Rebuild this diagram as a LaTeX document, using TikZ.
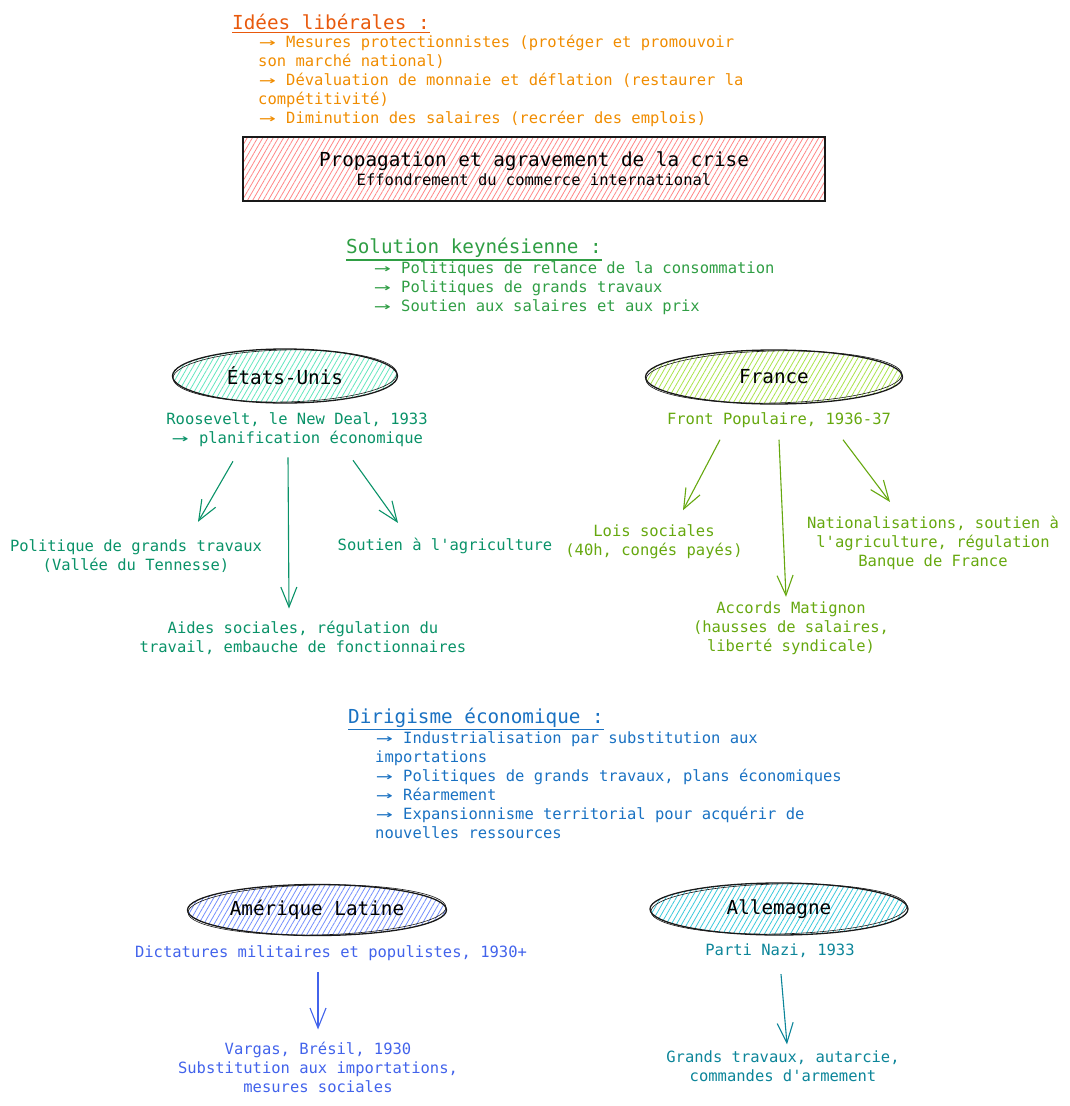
\documentclass[tikz,border=0pt]{standalone}
\usepackage{fontspec}
\usepackage{graphicx}
\setmonofont{DejaVu Sans Mono}
\usetikzlibrary{shapes.geometric,patterns.meta,arrows.meta}
\definecolor{libred}{HTML}{E8590C}
\definecolor{liborange}{HTML}{F08C00}
\definecolor{crisered}{HTML}{FF8787}
\definecolor{keygreen}{HTML}{2F9E44}
\definecolor{usfill}{HTML}{63E6BE}
\definecolor{ustext}{HTML}{099268}
\definecolor{frfill}{HTML}{A9E34B}
\definecolor{frtext}{HTML}{66A80F}
\definecolor{dirblue}{HTML}{1971C2}
\definecolor{alfill}{HTML}{748FFC}
\definecolor{altext}{HTML}{4263EB}
\definecolor{defill}{HTML}{3BC9DB}
\definecolor{detext}{HTML}{0C8599}
% the arrow of the lists takes two columns
\newcommand{\fl}{\makebox[1.204em][c]{\scalebox{1.8}[1]{→}}}
\tikzset{
  txt/.style={font=\ttfamily\fontsize{15.5}{19}\selectfont, inner sep=0pt, align=center},
  big/.style={font=\ttfamily\fontsize{19.3}{23}\selectfont, inner sep=0pt},
  hachure/.style={pattern={Lines[angle=60,distance=4.5pt,line width=0.8pt]}, pattern color=#1},
  pays/.style={ellipse, draw=black!90, line width=1.3pt, inner sep=0pt, big, hachure=#1},
  fleche/.style={-{Straight Barb[length=20pt,width=16pt]}, line width=1.1pt},
}
\begin{document}
\begin{tikzpicture}[x=1pt,y=-1pt]
\useasboundingbox (0,0) rectangle (1070,1106);

% liberal ideas and the crisis
\node[big, text=libred, anchor=west] (lib) at (232,21.5) {Idées libérales :};
\draw[libred, line width=1.4pt] ([yshift=-3pt]lib.south west) -- ([yshift=-3pt]lib.south east);
\node[txt, text=liborange, anchor=west, align=left] (libtxt) at (258,81)
  {\fl{} Mesures protectionnistes (protéger et promouvoir\\son marché national)\\\fl{} Dévaluation de monnaie et déflation (restaurer la\\compétitivité)\\\fl{} Diminution des salaires (recréer des emplois)};
\node[txt, draw=black!90, line width=1.5pt, hachure=crisered, minimum width=582pt, minimum height=64pt] (crise) at (534,169)
  {{\fontsize{19.3}{23}\selectfont Propagation et agravement de la crise}\\Effondrement du commerce international};

% keynes
\node[big, text=keygreen, anchor=west] (keynes) at (346,248) {Solution keynésienne :};
\draw[keygreen, line width=1.4pt] ([yshift=-2pt]keynes.south west) -- ([yshift=-2pt]keynes.south east);
\node[txt, text=keygreen, anchor=west, align=left] (keytxt) at (373,288)
  {\fl{} Politiques de relance de la consommation\\\fl{} Politiques de grands travaux\\\fl{} Soutien aux salaires et aux prix};

\node[pays=usfill, minimum width=225pt, minimum height=54pt] (eu) at (285,376) {États-Unis};
\node[txt, text=ustext] (roosevelt) at (297,430) {Roosevelt, le New Deal, 1933\\\fl{} planification économique};
\node[txt, text=ustext] (travaux) at (136,556.5) {Politique de grands travaux\\(Vallée du Tennesse)};
\node[txt, text=ustext] (agri) at (445,546) {Soutien à l'agriculture};
\node[txt, text=ustext] (aides) at (303,637.5) {Aides sociales, régulation du\\travail, embauche de fonctionnaires};
\draw[fleche, ustext] ([xshift=-64pt,yshift=-14pt]roosevelt.south) -- ([xshift=62pt,yshift=18pt]travaux.north);
\draw[fleche, ustext] ([xshift=-9pt,yshift=-10pt]roosevelt.south) -- ([xshift=-14pt,yshift=12pt]aides.north);
\draw[fleche, ustext] ([xshift=56pt,yshift=-13pt]roosevelt.south) -- ([xshift=-47pt,yshift=15pt]agri.north);

\node[pays=frfill, minimum width=257pt, minimum height=54pt] (fr) at (774,377) {France};
\node[txt, text=frtext] (front) at (779,420) {Front Populaire, 1936-37};
\node[txt, text=frtext] (lois) at (654,541.5) {Lois sociales\\(40h, congés payés)};
\node[txt, text=frtext] (matignon) at (791,628.5) {Accords Matignon\\(hausses de salaires,\\liberté syndicale)};
\node[txt, text=frtext] (nationa) at (933,543) {Nationalisations, soutien à\\l'agriculture, régulation\\Banque de France};
\draw[fleche, frtext] ([xshift=-59pt,yshift=-12pt]front.south) -- ([xshift=29pt,yshift=14pt]lois.north);
\draw[fleche, frtext] ([yshift=-12pt]front.south) -- ([xshift=-5pt,yshift=5pt]matignon.north);
\draw[fleche, frtext] ([xshift=64pt,yshift=-12pt]front.south) -- ([xshift=-43pt,yshift=14pt]nationa.north);

% dirigisme
\node[big, text=dirblue, anchor=west] (dirig) at (348,717.5) {Dirigisme économique :};
\draw[dirblue, line width=1.4pt] ([yshift=-2pt]dirig.south west) -- ([yshift=-2pt]dirig.south east);
\node[txt, text=dirblue, anchor=west, align=left] (dirtxt) at (375,785)
  {\fl{} Industrialisation par substitution aux\\importations\\\fl{} Politiques de grands travaux, plans économiques\\\fl{} Réarmement\\\fl{} Expansionnisme territorial pour acquérir de\\nouvelles ressources};

\node[pays=alfill, minimum width=259pt, minimum height=51pt] (al) at (317,910) {Amérique Latine};
\node[txt, text=altext] (dictat) at (331,953) {Dictatures militaires et populistes, 1930+};
\node[txt, text=altext] (vargas) at (318,1067) {Vargas, Brésil, 1930\\Substitution aux importations,\\mesures sociales};
\draw[fleche, altext] ([xshift=-13pt,yshift=-11pt]dictat.south) -- ([yshift=12pt]vargas.north);

\node[pays=defill, minimum width=258pt, minimum height=52pt] (de) at (779,909) {Allemagne};
\node[txt, text=detext] (nazi) at (780,951) {Parti Nazi, 1933};
\node[txt, text=detext] (autarcie) at (783,1066) {Grands travaux, autarcie,\\commandes d'armement};
\draw[fleche, detext] ([xshift=1pt,yshift=-16pt]nazi.south) -- ([xshift=4pt,yshift=6pt]autarcie.north);

% second pencil stroke round the countries
\foreach \n/\rx/\ry in {eu/112/26, fr/128/26, al/129/25, de/128/25}{
  \draw[black!90, line width=0.6pt, rotate around={1.2:(\n.center)}] (\n.center) ellipse [x radius=\rx, y radius=\ry];
}
\end{tikzpicture}
\end{document}
